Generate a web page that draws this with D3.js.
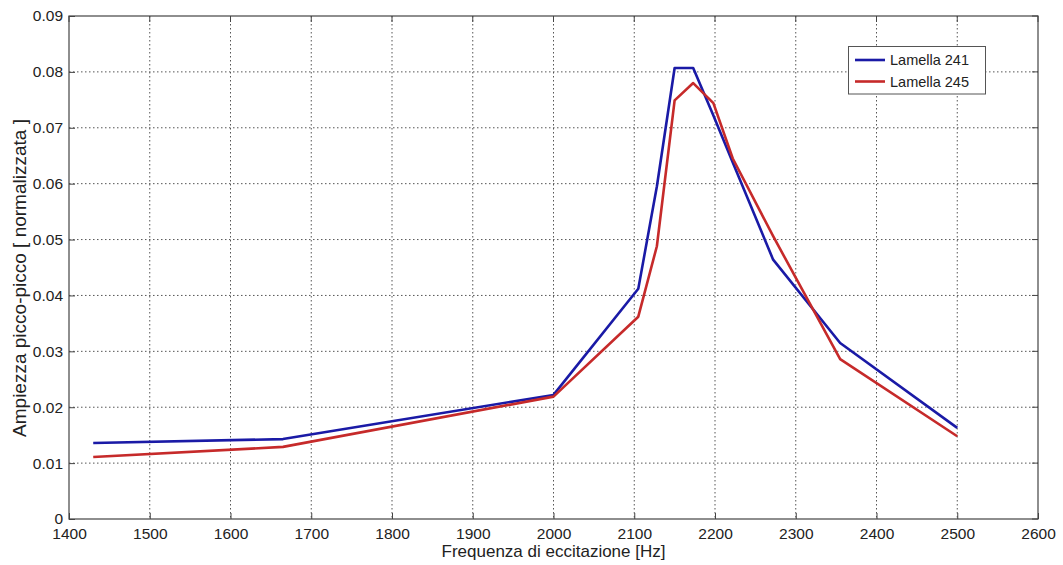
<!DOCTYPE html>
<html><head><meta charset="utf-8">
<script src="https://cdn.jsdelivr.net/npm/d3@7"></script>
<style>body{margin:0;background:#fff;} text{font-family:Arial,"Liberation Sans",sans-serif;}</style>
</head><body>
<svg id="c" width="1063" height="565"></svg>
<script>
const freq241 = [1430, 1665, 2000, 2105, 2128, 2150, 2173, 2198, 2222, 2272, 2355, 2500];
const val241  = [0.0136, 0.0143, 0.0222, 0.0412, 0.0595, 0.0807, 0.0807, 0.0722, 0.0638, 0.0464, 0.0315, 0.0163];
const freq245 = [1430, 1665, 2000, 2105, 2128, 2150, 2173, 2198, 2222, 2272, 2355, 2500];
const val245  = [0.0111, 0.0129, 0.0219, 0.0362, 0.0488, 0.0749, 0.0780, 0.0744, 0.0645, 0.0506, 0.0286, 0.0148];
const seriesNames = ["Lamella 241", "Lamella 245"];
const seriesColors = ["#1a1aa6", "#c62a2a"];
const xTicks = [1400,1500,1600,1700,1800,1900,2000,2100,2200,2300,2400,2500,2600];
const yTicks = [0,0.01,0.02,0.03,0.04,0.05,0.06,0.07,0.08,0.09];
const xLabel = "Frequenza di eccitazione [Hz]";
const yLabel = "Ampiezza picco-picco [ normalizzata ]";

const svg = d3.select("#c");
const L = 69, R = 1038, T = 16, B = 519;
const x = d3.scaleLinear().domain([1400, 2600]).range([L, R]);
const y = d3.scaleLinear().domain([0, 0.09]).range([B, T]);

// grid
const g = svg.append("g");
g.selectAll(".gx").data(xTicks.slice(1, -1)).enter().append("line")
  .attr("x1", d => x(d)).attr("x2", d => x(d)).attr("y1", T).attr("y2", B)
  .attr("stroke", "#555").attr("stroke-width", 1).attr("stroke-dasharray", "1.5,2.5");
g.selectAll(".gy").data(yTicks.slice(1, -1)).enter().append("line")
  .attr("x1", L).attr("x2", R).attr("y1", d => y(d)).attr("y2", d => y(d))
  .attr("stroke", "#555").attr("stroke-width", 1).attr("stroke-dasharray", "1.5,2.5");

// axes
const xAxis = svg.append("g").attr("transform", `translate(0,${B})`)
  .call(d3.axisBottom(x).tickValues(xTicks).tickSize(-6).tickPadding(9).tickFormat(d3.format("d")));
const yAxis = svg.append("g").attr("transform", `translate(${L},0)`)
  .call(d3.axisLeft(y).tickValues(yTicks).tickSize(-6).tickPadding(6).tickFormat(d => d === 0 ? "0" : d3.format(".2f")(d)));
[xAxis, yAxis].forEach(a => {
  a.select(".domain").remove();
  a.selectAll("line").attr("stroke", "#444");
  a.selectAll("text").attr("font-size", 15.5).attr("fill", "#222");
});
// top/right ticks
svg.append("g").selectAll("line").data(xTicks).enter().append("line")
  .attr("x1", d => x(d)).attr("x2", d => x(d)).attr("y1", T).attr("y2", T + 6).attr("stroke", "#444");
svg.append("g").selectAll("line").data(yTicks).enter().append("line")
  .attr("x1", R).attr("x2", R - 6).attr("y1", d => y(d)).attr("y2", d => y(d)).attr("stroke", "#444");
svg.append("rect").attr("x", L).attr("y", T).attr("width", R - L).attr("height", B - T)
  .attr("fill", "none").attr("stroke", "#444").attr("stroke-width", 1.2);

// lines
const line = d3.line().x(d => x(d[0])).y(d => y(d[1]));
const data = [d3.zip(freq241, val241), d3.zip(freq245, val245)];
data.forEach((d, i) => {
  svg.append("path").datum(d).attr("d", line).attr("fill", "none")
    .attr("stroke", seriesColors[i]).attr("stroke-width", 2.6).attr("stroke-linejoin", "round");
});

// legend
const lg = svg.append("g");
lg.append("rect").attr("x", 848.5).attr("y", 46.5).attr("width", 137).attr("height", 47.5)
  .attr("fill", "#fff").attr("stroke", "#555").attr("stroke-width", 1);
seriesNames.forEach((n, i) => {
  const yy = 60 + i * 21.5;
  lg.append("line").attr("x1", 855).attr("x2", 885).attr("y1", yy).attr("y2", yy)
    .attr("stroke", seriesColors[i]).attr("stroke-width", 2.6);
  lg.append("text").attr("x", 890).attr("y", yy + 5).attr("font-size", 14.5).attr("fill", "#222").text(n);
});

// labels
svg.append("text").attr("x", (L + R) / 2).attr("y", 557).attr("text-anchor", "middle")
  .attr("font-size", 17).attr("fill", "#222").text(xLabel);
svg.append("text").attr("transform", `translate(26,278) rotate(-90)`).attr("text-anchor", "middle")
  .attr("font-size", 19).attr("fill", "#222").text(yLabel);
</script>
</body></html>
